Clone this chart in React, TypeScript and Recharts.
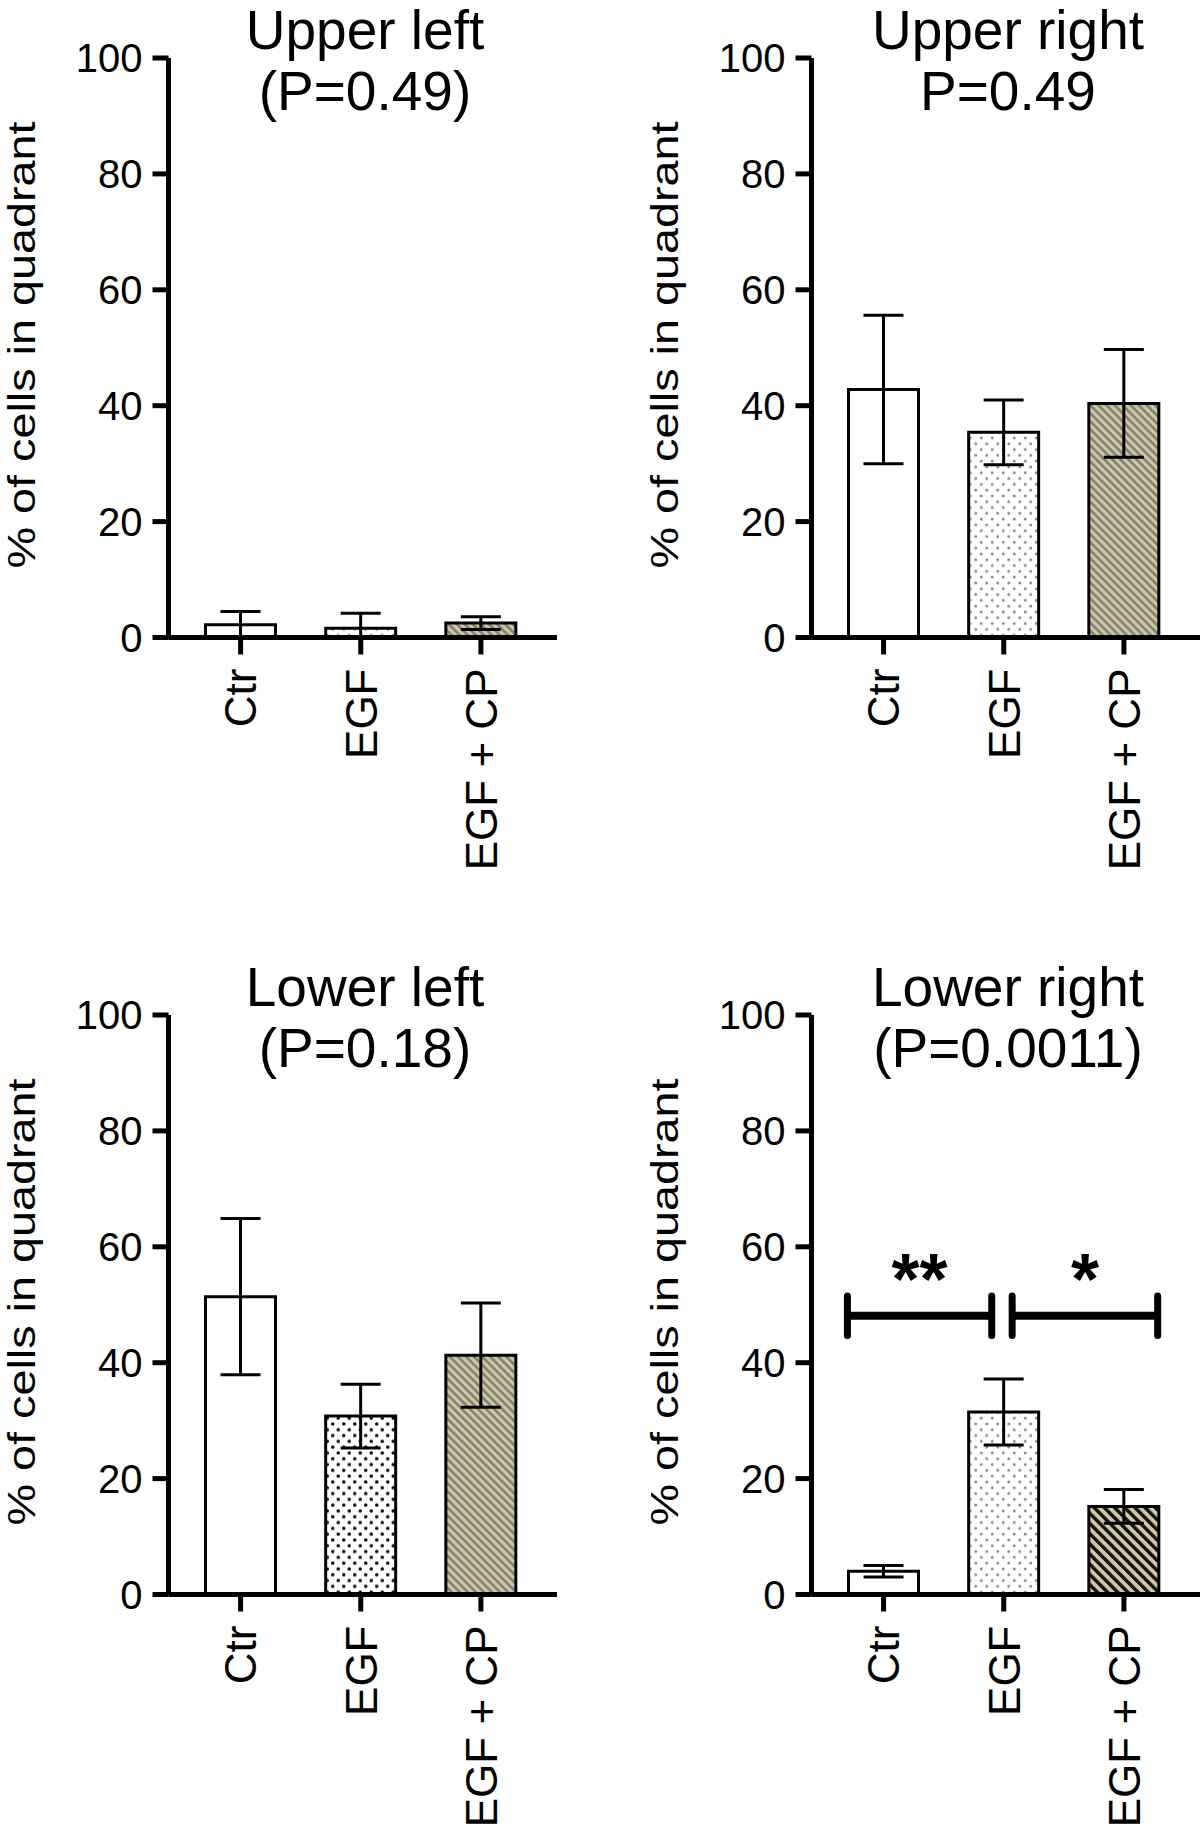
import React from 'react'
import { Bar, BarChart, Cell, ErrorBar, ReferenceLine, XAxis, YAxis } from 'recharts'

const groups = ['Ctr', 'EGF', 'EGF + CP']
const yTicks = [0, 20, 40, 60, 80, 100]

const upperLeftMean = [2.2, 1.6, 2.5]
const upperLeftSem = [2.3, 2.6, 1.1]

const upperRightMean = [42.8, 35.4, 40.4]
const upperRightSem = [12.8, 5.6, 9.3]

const lowerLeftMean = [51.4, 30.8, 41.3]
const lowerLeftSem = [13.5, 5.5, 9.0]

const lowerRightMean = [4.0, 31.5, 15.2]
const lowerRightSem = [1.0, 5.7, 2.9]

// significance brackets, x in group index units (0 = Ctr centre)
const lowerRightBrackets = [
  { from: -0.3, to: 0.9, level: 48.1, mark: '**' },
  { from: 1.07, to: 2.28, level: 48.1, mark: '*' },
]

const FONT = '"Liberation Sans", Arial, Helvetica, sans-serif'
const TAN = '#d3c7a2'

const W = 557
const H = 869
const AXIS_W = 168.5
const PLOT_H = 579.5
const PAD = { left: 12, right: 16 }
// hidden index axis: 0 and 2 sit on the first and last band centres
const IDX_PAD = { left: 72, right: 76 }

interface PatternStyle {
  dotColor: string
  dotR: number
  hatchColor: string
  hatchGap: number
  hatchW: number
}

const grayStyle: PatternStyle = { dotColor: '#8c8c8c', dotR: 1.5, hatchColor: '#7f7f7a', hatchGap: 5.7, hatchW: 2.6 }
const blackDots: PatternStyle = { ...grayStyle, dotColor: '#111', dotR: 1.8 }
const blackHatch: PatternStyle = { ...grayStyle, hatchColor: '#111', hatchGap: 7.2, hatchW: 3.4 }

function GroupTick({ x, y, payload }: any) {
  return (
    <text
      x={x}
      y={y}
      transform={`rotate(-90, ${x}, ${y})`}
      textAnchor="end"
      dy="0.36em"
      fontSize={44}
      fontFamily={FONT}
      fill="#000"
    >
      {payload.value}
    </text>
  )
}

function YLabel() {
  const cx = 35
  const cy = 345
  return (
    <text
      x={cx}
      y={cy}
      transform={`rotate(-90, ${cx}, ${cy})`}
      textAnchor="middle"
      textLength={447}
      lengthAdjust="spacingAndGlyphs"
      fontSize={38}
      fontFamily={FONT}
      fill="#000"
    >
      % of cells in quadrant
    </text>
  )
}

function StarLabel({ viewBox, mark }: any) {
  if (!viewBox) return null
  return (
    <text
      x={viewBox.x + viewBox.width / 2}
      y={viewBox.y - 12}
      textAnchor="middle"
      fontSize={72}
      fontWeight="bold"
      fontFamily={FONT}
      fill="#000"
    >
      {mark}
    </text>
  )
}

interface PanelProps {
  id: string
  left: number
  top: number
  title: [string, string]
  mean: number[]
  sem: number[]
  look: PatternStyle
  brackets?: typeof lowerRightBrackets
}

function Panel({ id, left, top, title, mean, sem, look, brackets = [] }: PanelProps) {
  const rows = groups.map((g, i) => ({
    name: g,
    idx: i,
    mean: mean[i],
    sem: [Math.min(sem[i], mean[i]), sem[i]],
  }))
  const fills = ['#fff', `url(#dots-${id})`, `url(#hatch-${id})`]
  const capHalf = 3.4

  return (
    <div style={{ position: 'absolute', left, top, width: W, height: H }}>
      <BarChart
        width={W}
        height={H}
        data={rows}
        margin={{ top: 58, right: 0, bottom: 0, left: 0 }}
      >
        <defs>
          <pattern id={`dots-${id}`} width={11} height={11.6} patternUnits="userSpaceOnUse">
            <rect width={11} height={11.6} fill="#fff" />
            <circle cx={2.75} cy={2.9} r={look.dotR} fill={look.dotColor} />
            <circle cx={8.25} cy={8.7} r={look.dotR} fill={look.dotColor} />
          </pattern>
          <pattern
            id={`hatch-${id}`}
            width={look.hatchGap}
            height={20}
            patternUnits="userSpaceOnUse"
            patternTransform="rotate(-45)"
          >
            <rect width={look.hatchGap} height={20} fill={TAN} />
            <rect width={look.hatchW} height={20} fill={look.hatchColor} />
          </pattern>
        </defs>
        <Bar
          dataKey="mean"
          xAxisId="cat"
          barSize={70}
          stroke="#000"
          strokeWidth={3}
          isAnimationActive={false}
        >
          {rows.map((r, i) => (
            <Cell key={r.name} fill={fills[i]} stroke="#000" strokeWidth={3} />
          ))}
          <ErrorBar dataKey="sem" width={20} stroke="#000" strokeWidth={3} />
        </Bar>
        <XAxis
          xAxisId="cat"
          dataKey="name"
          type="category"
          height={H - 58 - PLOT_H}
          padding={PAD}
          axisLine={{ stroke: '#000', strokeWidth: 5 }}
          tickLine={{ stroke: '#000', strokeWidth: 5 }}
          tickSize={17}
          tickMargin={14}
          tick={<GroupTick />}
          interval={0}
        />
        <XAxis
          xAxisId="num"
          dataKey="idx"
          type="number"
          domain={[0, 2]}
          allowDataOverflow
          padding={IDX_PAD}
          hide
        />
        <YAxis
          domain={[0, 100]}
          ticks={yTicks}
          width={AXIS_W}
          axisLine={{ stroke: '#000', strokeWidth: 5 }}
          tickLine={{ stroke: '#000', strokeWidth: 5 }}
          tickSize={16}
          tickMargin={10}
          tick={{ fontSize: 40, fill: '#000', fontFamily: FONT }}
          label={<YLabel />}
        />
        {brackets.map((b) => (
          <ReferenceLine
            key={`h-${b.mark}`}
            xAxisId="num"
            ifOverflow="visible"
            segment={[
              { x: b.from, y: b.level },
              { x: b.to, y: b.level },
            ]}
            stroke="#000"
            strokeWidth={8}
            label={<StarLabel mark={b.mark} />}
          />
        ))}
        {brackets.flatMap((b) =>
          [b.from, b.to].map((x) => (
            <ReferenceLine
              key={`c-${b.mark}-${x}`}
              xAxisId="num"
              ifOverflow="visible"
              segment={[
                { x, y: b.level - capHalf },
                { x, y: b.level + capHalf },
              ]}
              stroke="#000"
              strokeWidth={7}
              strokeLinecap="round"
            />
          ))
        )}
      </BarChart>
      <svg
        width={W}
        height={130}
        style={{ position: 'absolute', left: 0, top: 0, pointerEvents: 'none' }}
      >
        <text x={365} y={49} textAnchor="middle" fontSize={55} fontFamily={FONT} fill="#000">
          {title[0]}
        </text>
        <text x={365} y={110} textAnchor="middle" fontSize={55} fontFamily={FONT} fill="#000">
          {title[1]}
        </text>
      </svg>
    </div>
  )
}

export default function App() {
  return (
    <div
      style={{
        position: 'absolute',
        left: 0,
        top: 0,
        width: 1200,
        height: 1826,
        background: '#fff',
        overflow: 'hidden',
      }}
    >
      <Panel
        id="ul"
        left={0}
        top={0}
        title={['Upper left', '(P=0.49)']}
        mean={upperLeftMean}
        sem={upperLeftSem}
        look={grayStyle}
      />
      <Panel
        id="ur"
        left={643}
        top={0}
        title={['Upper right', 'P=0.49']}
        mean={upperRightMean}
        sem={upperRightSem}
        look={grayStyle}
      />
      <Panel
        id="ll"
        left={0}
        top={957}
        title={['Lower left', '(P=0.18)']}
        mean={lowerLeftMean}
        sem={lowerLeftSem}
        look={blackDots}
      />
      <Panel
        id="lr"
        left={643}
        top={957}
        title={['Lower right', '(P=0.0011)']}
        mean={lowerRightMean}
        sem={lowerRightSem}
        look={blackHatch}
        brackets={lowerRightBrackets}
      />
    </div>
  )
}
